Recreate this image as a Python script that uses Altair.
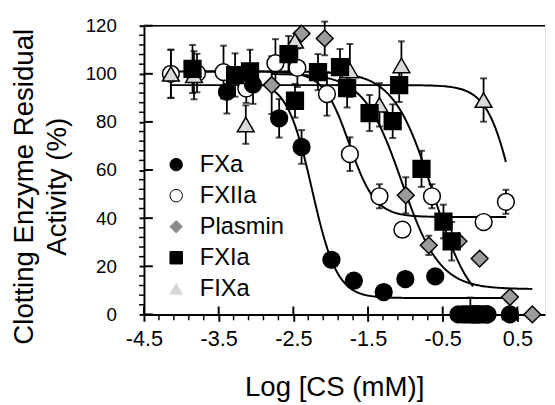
import altair as alt
import numpy as np
import pandas as pd

# ---------------- data ----------------
series_names = ["FXa", "FXIIa", "Plasmin", "FXIa", "FIXa"]

fxa_x = [-3.39, -3.04, -2.69, -2.39, -1.99, -1.69, -1.29, -1.0, -0.6, -0.29, 0.1, 0.4]
fxa_y = [92.5, 95.5, 81.5, 69.6, 22.7, 14.0, 9.3, 14.7, 15.8, 0, 0, 0]
fxa_err = [9, 8, 8, 7, 0, 0, 0, 0, 0, 0, 0, 0]

fxiia_x = [-4.14, -3.79, -3.435, -3.13, -2.74, -2.446, -2.05, -1.743, -1.347, -1.04, -0.644, 0.048, 0.346]
fxiia_y = [100, 100.3, 100.7, 93.9, 104.4, 102.5, 91.6, 66.6, 49.1, 35.2, 49.1, 38.4, 46.8]
fxiia_err = [10, 8, 11, 6, 10, 8, 9, 7, 5, 0, 5, 0, 5]

plasmin_x = [-2.79, -2.39, -2.08, -0.995, -0.687, -0.29, -0.005, 0.40, 0.70]
plasmin_y = [95.3, 116.7, 114.7, 49.5, 28.7, 30.4, 23.2, 7.2, 0]
plasmin_err = [12, 0, 7, 7.5, 4, 0, 0, 0, 0]

fxia_x = [-3.85, -3.28, -3.08, -2.565, -2.478, -2.17, -1.875, -1.78, -1.479, -1.17, -1.083,
          -0.784, -0.49, -0.38, -0.13, 0.0]
fxia_y = [102, 99.5, 101, 108.2, 88.8, 100.7, 102.8, 94, 83.7, 80.3, 95.3, 60.5, 38.6, 30.4, 0, 0]
fxia_err = [10, 9, 9, 7.5, 7, 7.5, 7.5, 8, 7.5, 7, 7, 7.5, 7, 8, 7, 0]

fixa_x = [-4.14, -3.83, -3.137, -2.478, -1.743, -1.347, -1.053, 0.047]
fixa_y = [100, 99.4, 78.9, 113.7, 101.4, 87.1, 103.5, 89.1]
fixa_err = [10, 10, 8, 0, 11, 9, 10, 9]

# fitted dose-response curves, order as series_names
fit_top = [97, 101, 100, 101, 95.3]
fit_bottom = [6.8, 40.5, 10.5, 0, 0]
fit_logic50 = [-2.25, -1.75, -1.05, -0.63, 0.469]
fit_hill = [2.59, 2.5, 1.7, 1.65, 2.42]
fit_from = [-3.4, -4.14, -2.79, -3.85, -4.14]
fit_to = [0.32, 0.35, 0.70, -0.094, 0.346]

x_ticks = [-4.5, -3.5, -2.5, -1.5, -0.5, 0.5]
y_ticks = [0, 20, 40, 60, 80, 100, 120]
x_minor_step = 0.2
y_minor_step = 4

# ---------------- styles ----------------
shapes = ["circle", "circle", "diamond", "square", "triangle-up"]
main_fill = ["black", "white", "#9b9b9b", "black", "#dadada"]
main_size = [290, 290, 350, 215, 290]
legend_fill = ["black", "white", "#8a8a8a", "black", "#d6d6d6"]
legend_stroke = ["black", "black", "#8a8a8a", "black", "#d6d6d6"]
FONT = "Liberation Sans"
W, H = 407, 293

# ---------------- tables ----------------
raw = {
    "FXa": (fxa_x, fxa_y, fxa_err),
    "FXIIa": (fxiia_x, fxiia_y, fxiia_err),
    "Plasmin": (plasmin_x, plasmin_y, plasmin_err),
    "FXIa": (fxia_x, fxia_y, fxia_err),
    "FIXa": (fixa_x, fixa_y, fixa_err),
}
draw_order = ["FXIIa", "Plasmin", "FIXa", "FXIa", "FXa"]
rows = []
for s in draw_order:
    xs_, ys_, es_ = raw[s]
    for a, b, e in zip(xs_, ys_, es_):
        rows.append({"series": s, "x": a, "y": b, "err": e,
                     "lo": max(0.0, b - e), "hi": b + e})
pts = pd.DataFrame(rows)
errs = pts[pts["err"] > 0].copy()
caps = pd.concat([errs[["x", "lo"]].rename(columns={"lo": "y"}),
                  errs[["x", "hi"]].rename(columns={"hi": "y"})])

crows = []
for i, s in enumerate(series_names):
    xx = np.linspace(fit_from[i], fit_to[i], 160)
    yy = fit_bottom[i] + (fit_top[i] - fit_bottom[i]) / (1 + 10 ** ((xx - fit_logic50[i]) * fit_hill[i]))
    for a, b in zip(xx, yy):
        crows.append({"series": s, "x": a, "y": b})
curves = pd.DataFrame(crows)

x_minor = [v for v in np.round(np.arange(x_ticks[0], 0.8, x_minor_step), 2)
           if not np.isclose(((v - x_ticks[0]) % 1.0), 0) and not np.isclose(((v - x_ticks[0]) % 1.0), 1.0)]
y_minor = [v for v in range(0, 121, y_minor_step) if v % 20 != 0]
xminor_df = pd.DataFrame({"x": x_minor})
xmajor_df = pd.DataFrame({"x": x_ticks})
yminor_df = pd.DataFrame({"y": y_minor})
ymajor_df = pd.DataFrame({"y": y_ticks})
top_df = pd.DataFrame({"y": [120]})

# ---------------- scales / axes ----------------
xs = alt.Scale(domain=[-4.5, 0.87], nice=False, zero=False)
ys = alt.Scale(domain=[0, 120], nice=False, zero=False)
common_axis = dict(grid=False, domainColor="black", domainWidth=2, tickColor="black",
                   tickWidth=2, labelColor="black", titleColor="black", labelFont=FONT,
                   titleFont=FONT, titleFontWeight="normal", labelFlush=False)
xaxis = alt.Axis(values=x_ticks, tickSize=7, labelFontSize=22, labelPadding=8,
                 labelExpr="(datum.value < 0 ? '-' : '') + format(abs(datum.value), '.1f')",
                 title="Log [CS (mM)]", titleFontSize=28, titleX=193, titleY=82,
                 titleAlign="center", titleBaseline="alphabetic", **common_axis)
yaxis = alt.Axis(values=y_ticks, tickSize=5, labelFontSize=19, labelPadding=23,
                 title=["Clotting Enzyme Residual", "Activity (%)"], titleFontSize=28,
                 titleAngle=270, titleAlign="center", titleBaseline="alphabetic",
                 titleX=-113, titleY=163, titleLineHeight=33, **common_axis)
X = alt.X("x:Q", scale=xs, axis=xaxis)
Y = alt.Y("y:Q", scale=ys, axis=yaxis)

top_line = alt.Chart(top_df).mark_rule(color="black", strokeWidth=1.5).encode(y=Y)
x_minor_t = alt.Chart(xminor_df).mark_rule(color="black", strokeWidth=1.5).encode(
    x=X, y=alt.value(H), y2=alt.value(H + 6))
x_major_t = alt.Chart(xmajor_df).mark_rule(color="black", strokeWidth=2).encode(
    x=X, y=alt.value(H), y2=alt.value(H - 8))
y_minor_t = alt.Chart(yminor_df).mark_rule(color="black", strokeWidth=1.5).encode(
    y=Y, x=alt.value(0), x2=alt.value(-5))
y_major_t = alt.Chart(ymajor_df).mark_rule(color="black", strokeWidth=2).encode(
    y=Y, x=alt.value(0), x2=alt.value(9))

lines = alt.Chart(curves).mark_line(color="black", strokeWidth=2).encode(
    x=X, y=Y, detail="series:N")

err_rules = alt.Chart(errs).mark_rule(color="black", strokeWidth=1.8).encode(
    x=X, y=alt.Y("lo:Q", scale=ys, axis=yaxis), y2="hi:Q")
err_caps = alt.Chart(caps).mark_tick(color="black", orient="horizontal", size=7,
                                     thickness=2).encode(x=X, y=Y)

leg = alt.Legend(orient="none", legendX=20.7, legendY=129, title=None, labelFontSize=24,
                 labelFont=FONT, labelColor="black", symbolSize=160, labelOffset=12,
                 rowPadding=7.5, padding=0, symbolStrokeWidth=1)
legend_layer = alt.Chart(pts).mark_point(filled=True, size=60, strokeWidth=1, opacity=1).encode(
    x=X, y=Y,
    shape=alt.Shape("series:N", scale=alt.Scale(domain=series_names, range=shapes), legend=leg),
    fill=alt.Fill("series:N", scale=alt.Scale(domain=series_names, range=legend_fill), legend=leg),
    stroke=alt.Stroke("series:N", scale=alt.Scale(domain=series_names, range=legend_stroke), legend=leg),
)
main_points = alt.Chart(pts).mark_point(filled=True, stroke="black", strokeWidth=1.5, opacity=1).encode(
    x=X, y=Y,
    shape=alt.Shape("series:N", scale=alt.Scale(domain=series_names, range=shapes), legend=None),
    fill=alt.Fill("series:N", scale=alt.Scale(domain=series_names, range=main_fill), legend=None),
    size=alt.Size("series:N", scale=alt.Scale(domain=series_names, range=main_size), legend=None),
)

chart = alt.layer(
    top_line, x_minor_t, x_major_t, y_minor_t, y_major_t, lines, err_rules, err_caps,
    legend_layer, main_points
).resolve_scale(
    fill="independent", shape="independent", stroke="independent", size="independent"
).properties(
    width=W, height=H,
    autosize=alt.AutoSizeParams(type="none"),
    padding={"left": 138, "top": 15, "right": 2, "bottom": 89},
).configure_view(stroke=None).configure(font=FONT)

chart.save("out.html", embed_options={"renderer": "svg", "actions": False})
